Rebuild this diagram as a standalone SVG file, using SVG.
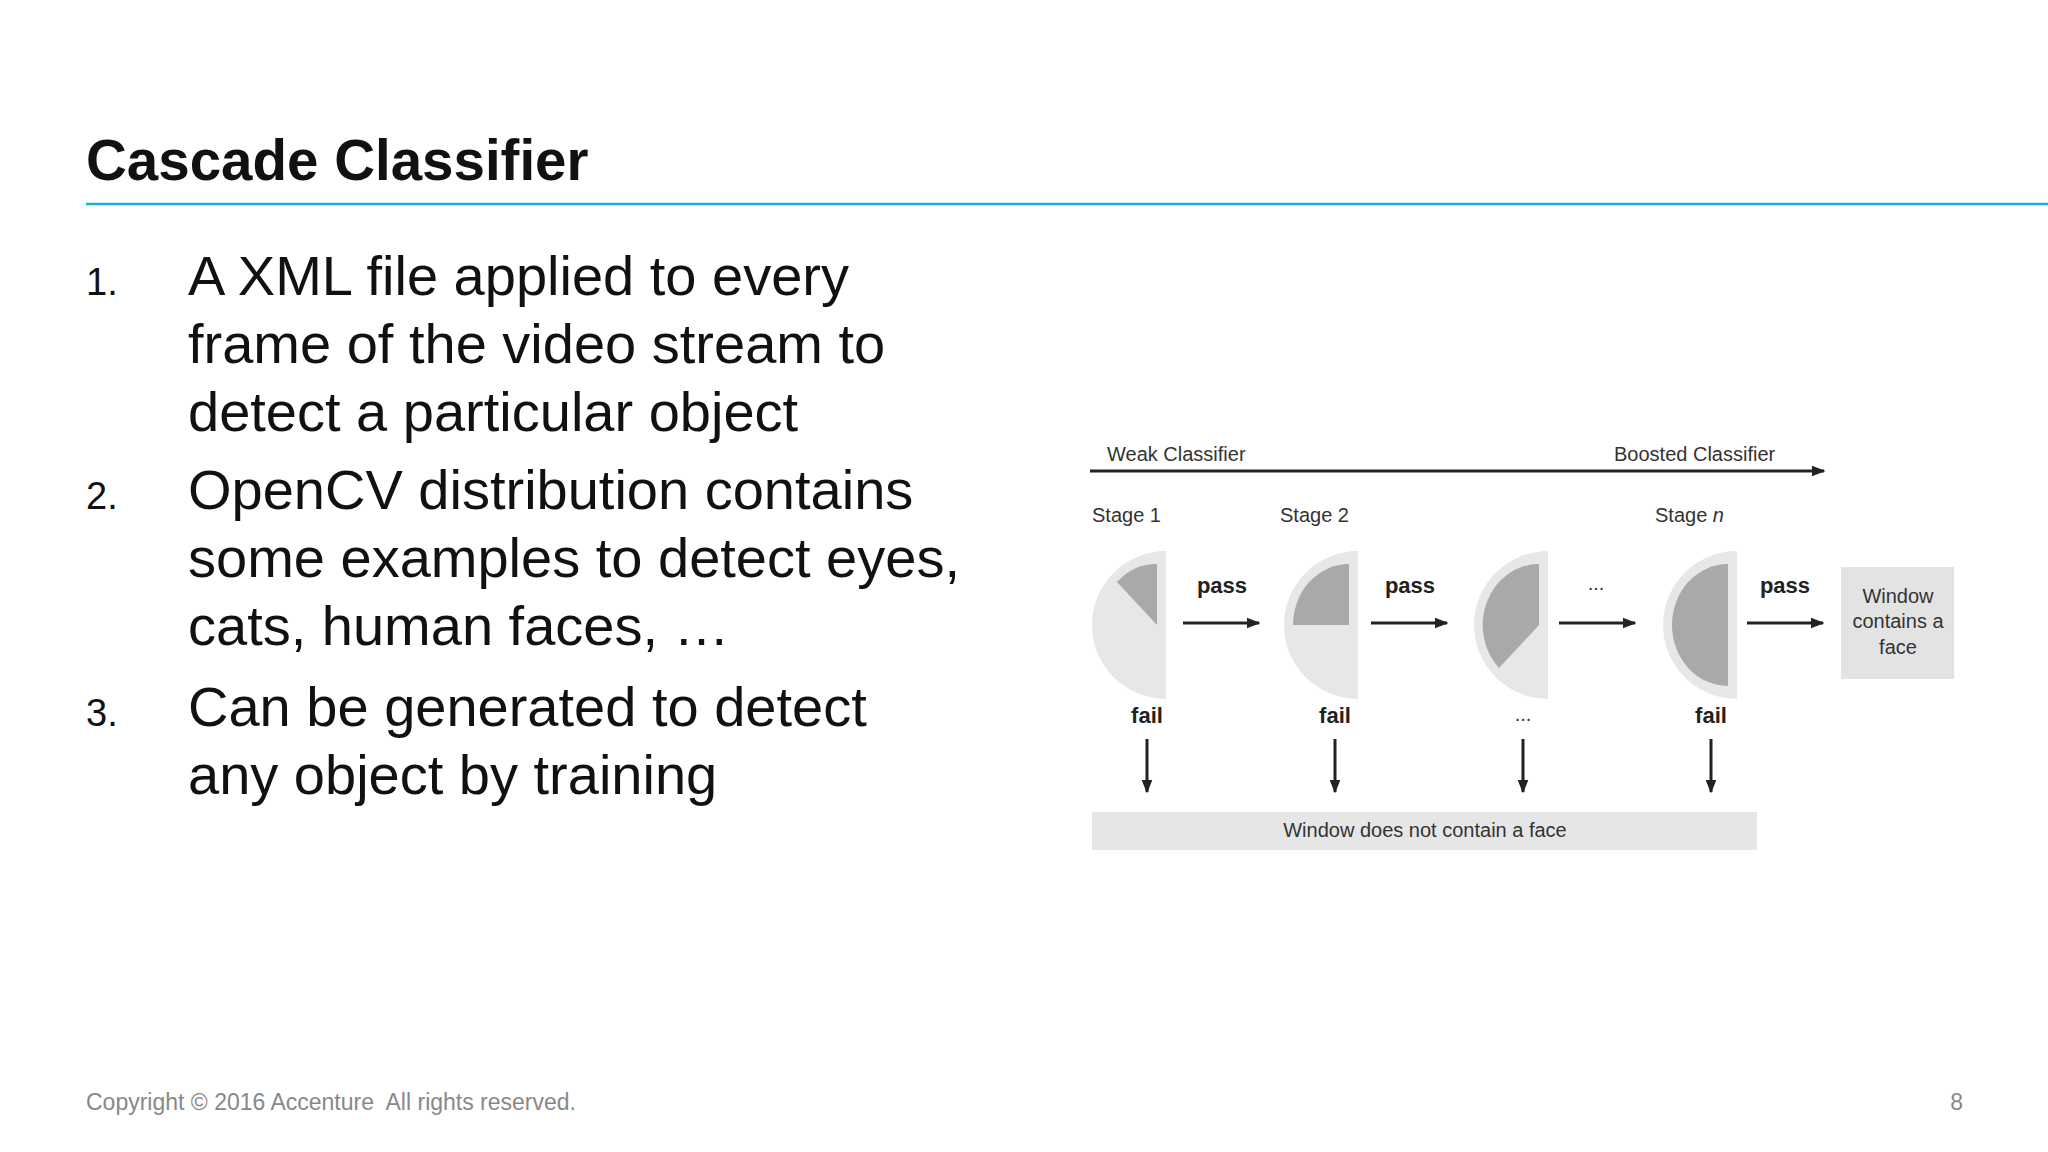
<svg xmlns="http://www.w3.org/2000/svg" width="2048" height="1152" viewBox="0 0 2048 1152">
<defs>
<marker id="ah" viewBox="0 0 10 10" refX="9" refY="5" markerWidth="4.5" markerHeight="4.5" orient="auto" markerUnits="strokeWidth"><path d="M0,1 L10,5 L0,9 z" fill="#222"/></marker>
<style>
.t{font-family:"Liberation Sans",Arial,sans-serif}
.b{font-size:56px;fill:#111}
.n{font-size:38px;fill:#111}
.d{font-size:20px;fill:#333}
.p{font-size:22px;fill:#222;font-weight:bold}
.o{fill:#e7e7e7}
.i{fill:#a9a9a9}
.c{stroke:#222;stroke-width:3;fill:none;marker-end:url(#ah)}
</style>
</defs>
<rect width="2048" height="1152" fill="#fff"/>
<text class="t" x="86" y="180" font-size="56.5" font-weight="bold" fill="#111">Cascade Classifier</text>
<line x1="86" y1="204" x2="2048" y2="204" stroke="#1aaee3" stroke-width="2.5"/>
<g id="list" class="t">
<text class="n" x="86" y="295">1.</text>
<text class="b" x="188" y="295">A XML file applied to every</text>
<text class="b" x="188" y="363">frame of the video stream to</text>
<text class="b" x="188" y="431">detect a particular object</text>
<text class="n" x="86" y="509">2.</text>
<text class="b" x="188" y="509">OpenCV distribution contains</text>
<text class="b" x="188" y="577">some examples to detect eyes,</text>
<text class="b" x="188" y="645">cats, human faces, …</text>
<text class="n" x="86" y="726">3.</text>
<text class="b" x="188" y="726">Can be generated to detect</text>
<text class="b" x="188" y="794">any object by training</text>
</g>
<text class="t" x="86" y="1110" font-size="23" fill="#888" xml:space="preserve">Copyright © 2016 Accenture  All rights reserved.</text>
<text class="t" x="1963" y="1110" font-size="23" fill="#888" text-anchor="end">8</text>
<g id="header" class="t">
<text class="d" x="1107" y="461">Weak Classifier</text>
<text class="d" x="1614" y="461">Boosted Classifier</text>
<text class="d" x="1092" y="522">Stage 1</text>
<text class="d" x="1280" y="522">Stage 2</text>
<text class="d" x="1655" y="522">Stage <tspan font-style="italic">n</tspan></text>
</g>
<g id="stage1">
<path class="o" d="M1166,551 A74,74 0 0 0 1166,699 Z"/>
<path class="i" d="M1157,625 L1157,564 A56,61 0 0 0 1117,582 Z"/>
</g>
<g id="stage2">
<path class="o" d="M1358,551 A74,74 0 0 0 1358,699 Z"/>
<path class="i" d="M1349,625 L1349,564 A56,61 0 0 0 1293,625 Z"/>
</g>
<g id="stage3">
<path class="o" d="M1548,551 A74,74 0 0 0 1548,699 Z"/>
<path class="i" d="M1539,625 L1539,564 A56,61 0 0 0 1499,668 Z"/>
</g>
<g id="stageN">
<path class="o" d="M1737,551 A74,74 0 0 0 1737,699 Z"/>
<path class="i" d="M1728,564 A56,61 0 0 0 1728,686 Z"/>
</g>
<g id="face">
<rect x="1841" y="567" width="113" height="112" fill="#e3e3e3"/>
<text class="t d" x="1898" y="603" text-anchor="middle" font-size="19">Window</text>
<text class="t d" x="1898" y="628" text-anchor="middle" font-size="19">contains a</text>
<text class="t d" x="1898" y="654" text-anchor="middle" font-size="19">face</text>
</g>
<g id="noface">
<rect x="1092" y="812" width="665" height="38" fill="#e6e6e6"/>
<text class="t d" x="1425" y="837" text-anchor="middle">Window does not contain a face</text>
</g>
<g id="labels" class="t">
<text class="p" x="1222" y="593" text-anchor="middle">pass</text>
<text class="p" x="1410" y="593" text-anchor="middle">pass</text>
<text class="d" x="1596" y="590" text-anchor="middle">...</text>
<text class="p" x="1785" y="593" text-anchor="middle">pass</text>
<text class="p" x="1147" y="723" text-anchor="middle">fail</text>
<text class="p" x="1335" y="723" text-anchor="middle">fail</text>
<text class="d" x="1523" y="721" text-anchor="middle">...</text>
<text class="p" x="1711" y="723" text-anchor="middle">fail</text>
</g>
<g id="connectors">
<line class="c" x1="1090" y1="471" x2="1824" y2="471"/>
<line class="c" x1="1183" y1="623" x2="1259" y2="623"/>
<line class="c" x1="1371" y1="623" x2="1447" y2="623"/>
<line class="c" x1="1559" y1="623" x2="1635" y2="623"/>
<line class="c" x1="1747" y1="623" x2="1823" y2="623"/>
<line class="c" x1="1147" y1="739" x2="1147" y2="792"/>
<line class="c" x1="1335" y1="739" x2="1335" y2="792"/>
<line class="c" x1="1523" y1="739" x2="1523" y2="792"/>
<line class="c" x1="1711" y1="739" x2="1711" y2="792"/>
</g>
</svg>
